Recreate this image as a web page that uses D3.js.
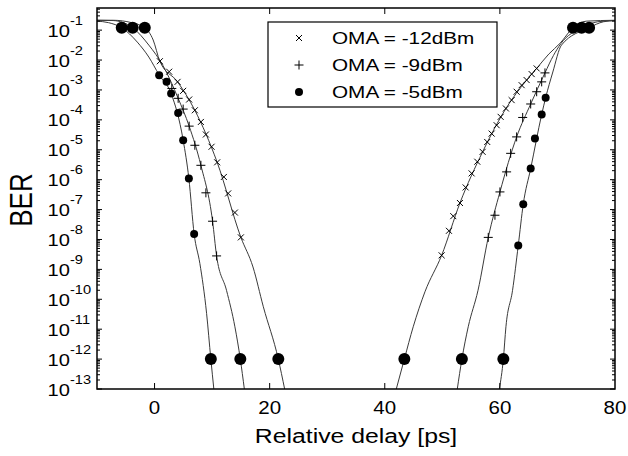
<!DOCTYPE html>
<html>
<head>
<meta charset="utf-8">
<script src="https://cdn.jsdelivr.net/npm/d3@7"></script>
<style>
  body { margin: 0; background: #fff; }
  svg text { font-family: "Liberation Sans", Arial, sans-serif; fill: #000; }
</style>
</head>
<body>
<svg id="chart" width="628" height="456"></svg>
<script>
// x ticks and y decade labels (exponents of 10)
const xTicks = [0, 20, 40, 60, 80];
const yExponents = [-1, -2, -3, -4, -5, -6, -7, -8, -9, -10, -11, -12, -13];
const legendLabels = ['OMA = -12dBm', 'OMA = -9dBm', 'OMA = -5dBm'];

// measured points, BER given as log10
const oma12LeftX = [0.92, 2.54, 4.0, 4.97, 6.01, 7.0, 8.05, 8.92, 9.91, 10.88, 12.04, 12.79, 13.96, 15.0];
const oma12LeftY = [-2.04, -2.39, -2.73, -3.03, -3.32, -3.68, -4.07, -4.49, -4.90, -5.42, -5.91, -6.46, -7.10, -7.93];
const oma12RightX = [49.88, 51.15, 51.9, 53.06, 54.05, 55.09, 56.07, 57.0, 57.8, 58.57, 59.44, 60.13, 61.05, 62.04, 62.91, 63.78, 64.65, 65.52, 66.39];
const oma12RightY = [-8.53, -7.71, -7.22, -6.78, -6.26, -5.79, -5.40, -5.07, -4.74, -4.46, -4.18, -3.90, -3.62, -3.34, -3.06, -2.84, -2.67, -2.47, -2.28];

const oma9LeftX = [3.0, 4.10, 4.97, 6.01, 7.0, 8.05, 8.92, 10.08, 10.78];
const oma9LeftY = [-2.95, -3.28, -3.64, -4.21, -4.85, -5.52, -6.44, -7.39, -8.55];
const oma9RightX = [57.98, 59.14, 60.01, 61.17, 61.87, 62.91, 63.96, 65.35, 66.39, 67.26, 67.83];
const oma9RightY = [-7.93, -7.19, -6.41, -5.74, -5.12, -4.57, -3.92, -3.47, -3.06, -2.73, -2.43];

const oma5LeftX = [0.8, 2.09, 2.88, 4.10, 4.97, 5.96, 6.88];
const oma5LeftY = [-2.505, -2.73, -3.12, -3.77, -4.68, -5.96, -7.82];
const oma5RightX = [63.19, 64.06, 65.35, 66.09, 67.26, 67.95];
const oma5RightY = [-8.20, -6.82, -5.63, -4.62, -3.82, -3.26];

// end points of the fits (big dots)
const endX = [-5.7, -3.8, -1.7, 9.78, 14.9, 21.5, 43.4, 53.4, 60.6, 72.7, 74.2, 75.5];
const endY = [-0.92, -0.92, -0.92, -12, -12, -12, -12, -12, -12, -0.92, -0.92, -0.92];

// fitted curves, log10 BER
const fit12LeftX = [-10, -7.2, -4, -1.7, -0.24, 0.92, 4.0, 7.0, 10.88, 15.0, 17.1, 18.9, 21.5, 22.6];
const fit12LeftY = [-0.67, -0.67, -0.75, -0.92, -1.33, -2.04, -2.73, -3.68, -5.42, -7.93, -8.92, -10.25, -12, -13];
const fit9LeftX = [-10, -7.2, -3.8, -1, 1.5, 4.1, 6.01, 8.05, 10.08, 10.78, 12.5, 13.96, 14.9, 15.6];
const fit9LeftY = [-0.67, -0.68, -0.92, -1.5, -2.2, -3.28, -4.21, -5.52, -7.39, -8.55, -9.7, -10.92, -12, -13];
const fit5LeftX = [-10, -8, -5.7, -3, -1, 0.8, 2.88, 4.97, 5.96, 6.88, 7.87, 9.04, 9.78, 10.3];
const fit5LeftY = [-0.7, -0.75, -0.92, -1.4, -1.9, -2.5, -3.12, -4.68, -5.96, -7.82, -8.8, -10.47, -12, -13];
const fit12RightX = [42.0, 43.4, 44.94, 46.98, 49.88, 53.06, 57.0, 61.05, 64.65, 66.39, 68.5, 70.5, 72.7, 75, 80];
const fit12RightY = [-13, -12, -10.92, -9.75, -8.53, -6.78, -5.07, -3.62, -2.67, -2.28, -1.8, -1.43, -0.92, -0.7, -0.67];
const fit9RightX = [52.6, 53.4, 54.5, 56.2, 57.98, 60.01, 62.91, 65.35, 67.83, 69.3, 70.6, 74.2, 77, 80];
const fit9RightY = [-13, -12, -10.92, -9.7, -7.93, -6.41, -4.57, -3.47, -2.43, -1.85, -1.45, -0.92, -0.72, -0.68];
const fit5RightX = [59.9, 60.6, 61.05, 62.2, 63.19, 64.06, 65.35, 67.26, 67.95, 69.2, 70.7, 75.5, 78, 80];
const fit5RightY = [-13, -12, -10.92, -9.7, -8.2, -6.82, -5.63, -3.82, -3.26, -2.4, -1.5, -0.92, -0.72, -0.68];

const margin = { left: 97, right: 13, top: 8, bottom: 67 };
const W = 628, H = 456;
const SX = 1.22; // source figure is stretched horizontally

const svg = d3.select('#chart');
const x = d3.scaleLinear().domain([-10, 80]).range([margin.left, W - margin.right]);
const y = d3.scaleLog().domain([1e-13, Math.pow(10, -0.26)]).range([H - margin.bottom, margin.top]);

const zip = (xs, ys) => xs.map((v, i) => ({ x: v, y: Math.pow(10, ys[i]) }));

function label(g, px, py, text, size, anchor, sx) {
    return g.append('text')
        .attr('transform', 'translate(' + px + ',' + py + ') scale(' + (sx || SX) + ',1)')
        .attr('text-anchor', anchor)
        .style('font-size', size + 'px')
        .text(text);
}

const plot = svg.append('g');
svg.append('clipPath').attr('id', 'clip').append('rect')
    .attr('x', x(-10)).attr('y', y.range()[1])
    .attr('width', x(80) - x(-10)).attr('height', y.range()[0] - y.range()[1]);

// fitted lines
const line = d3.line()
    .x(d => x(d.x)).y(d => y(d.y))
    .curve(d3.curveMonotoneX);
const fits = [
    [fit12LeftX, fit12LeftY], [fit9LeftX, fit9LeftY], [fit5LeftX, fit5LeftY],
    [fit12RightX, fit12RightY], [fit9RightX, fit9RightY], [fit5RightX, fit5RightY]
];
plot.append('g').attr('clip-path', 'url(#clip)')
    .selectAll('path').data(fits).join('path')
    .attr('d', f => line(zip(f[0], f[1])))
    .attr('fill', 'none')
    .attr('stroke', '#3a3a3a')
    .attr('stroke-width', 1);

// markers
const crossPath = 'M-3,-3L3,3M-3,3L3,-3';
const plusPath = 'M-4.5,0L4.5,0M0,-4.5L0,4.5';
function drawPath(data, d) {
    plot.append('g').selectAll('path').data(data).join('path')
        .attr('transform', p => 'translate(' + x(p.x) + ',' + y(p.y) + ')')
        .attr('d', d)
        .attr('stroke', '#000')
        .attr('stroke-width', 1)
        .attr('fill', 'none');
}
function drawDots(data, r) {
    plot.append('g').selectAll('circle').data(data).join('circle')
        .attr('cx', p => x(p.x))
        .attr('cy', p => y(p.y))
        .attr('r', r)
        .attr('fill', '#000');
}
drawPath(zip(oma12LeftX, oma12LeftY).concat(zip(oma12RightX, oma12RightY)), crossPath);
drawPath(zip(oma9LeftX, oma9LeftY).concat(zip(oma9RightX, oma9RightY)), plusPath);
drawDots(zip(oma5LeftX, oma5LeftY).concat(zip(oma5RightX, oma5RightY)), 4);
drawDots(zip(endX, endY), 6);

// frame
svg.append('rect')
    .attr('x', x(-10)).attr('y', y.range()[1])
    .attr('width', x(80) - x(-10)).attr('height', y.range()[0] - y.range()[1])
    .attr('fill', 'none').attr('stroke', '#000').attr('stroke-width', 1.5);

// x ticks (inside, top and bottom)
const ticks = svg.append('g').attr('stroke', '#000').attr('stroke-width', 1);
xTicks.slice(0, -1).forEach(t => {
    ticks.append('line').attr('x1', x(t)).attr('x2', x(t)).attr('y1', y.range()[0]).attr('y2', y.range()[0] - 6);
    ticks.append('line').attr('x1', x(t)).attr('x2', x(t)).attr('y1', y.range()[1]).attr('y2', y.range()[1] + 6);
});
xTicks.forEach(t => label(svg, x(t), 414, t, 19, 'middle', 1.08));

// y ticks: decades and minor log ticks on both sides
yExponents.forEach(e => {
    const py = y(Math.pow(10, e));
    ticks.append('line').attr('x1', x(-10)).attr('x2', x(-10) + 5).attr('y1', py).attr('y2', py);
    ticks.append('line').attr('x1', x(80)).attr('x2', x(80) - 5).attr('y1', py).attr('y2', py);
    [2, 3, 4, 5, 6, 7, 8, 9].forEach(m => {
        const v = m * Math.pow(10, e);
        if (v > y.domain()[1]) return;
        const pm = y(v);
        ticks.append('line').attr('x1', x(-10)).attr('x2', x(-10) + 3).attr('y1', pm).attr('y2', pm);
        ticks.append('line').attr('x1', x(80)).attr('x2', x(80) - 3).attr('y1', pm).attr('y2', pm);
    });
    label(svg, 70, py + 6.5, '10', 16.5, 'end');
    label(svg, 70, py - 5.5, e, 12, 'start');
});

// axis titles
label(svg, 356, 443, 'Relative delay [ps]', 21, 'middle', 1.18);
svg.append('text')
    .attr('transform', 'translate(32,200) scale(' + SX + ',1) rotate(-90)')
    .attr('text-anchor', 'middle')
    .style('font-size', '26px')
    .text('BER');

// legend
const leg = svg.append('g');
leg.append('rect').attr('x', 268).attr('y', 22).attr('width', 229).attr('height', 85)
    .attr('fill', '#fff').attr('stroke', '#000').attr('stroke-width', 1.2);
const rowY = [38, 65, 92];
legendLabels.forEach((t, i) => {
    const ly = rowY[i];
    if (i === 0) leg.append('path').attr('transform', 'translate(299,' + ly + ')').attr('d', crossPath).attr('stroke', '#000').attr('fill', 'none');
    if (i === 1) leg.append('path').attr('transform', 'translate(299,' + ly + ')').attr('d', plusPath).attr('stroke', '#000').attr('fill', 'none');
    if (i === 2) leg.append('circle').attr('cx', 299).attr('cy', ly).attr('r', 4).attr('fill', '#000');
    label(leg, 332, ly + 6, t, 17, 'start');
});
</script>
</body>
</html>
